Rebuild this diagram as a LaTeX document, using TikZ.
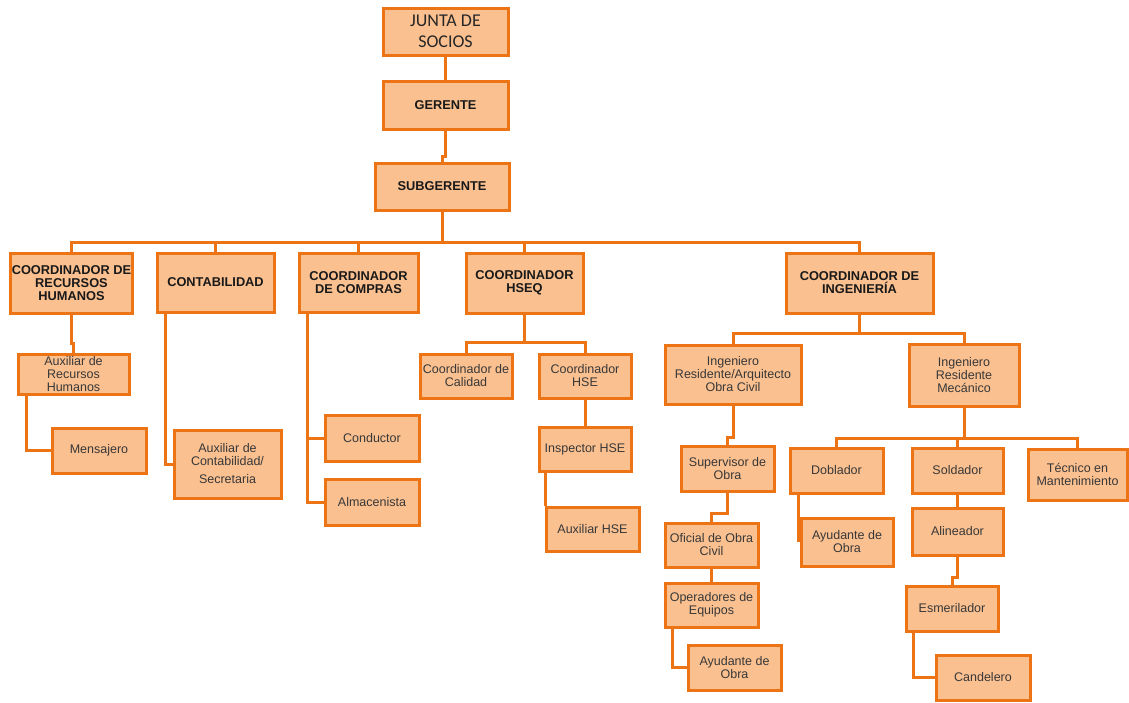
\documentclass[tikz,border=0pt]{standalone}
\usepackage{fontspec}
\setmainfont{Liberation Sans}
\newfontfamily\carlito{Carlito}
\usetikzlibrary{backgrounds}
\definecolor{boxfill}{HTML}{FAC090}
\definecolor{boxline}{HTML}{EC7414}
\definecolor{txt}{HTML}{383838}
\tikzset{
 orgbox/.style={draw=boxline, fill=boxfill, line width=3pt, inner sep=1pt, align=center, text=txt, font=\fontsize{12.5}{13}\selectfont},
 boldbox/.style={orgbox, font=\fontsize{12.8}{13}\selectfont\bfseries, text=black!90},
 topbox/.style={orgbox, font=\carlito\fontsize{18}{21}\selectfont, text=black!85},
 link/.style={draw=boxline, line width=3pt},
}
\newcommand\bx[7][orgbox]{\node[#1, minimum width={(#5)-(#3)}, minimum height={(#6)-(#4)}] (#2) at ({((#3)+(#5))/2},{((#4)+(#6))/2}) {#7};}
\begin{document}
\begin{tikzpicture}[x=1pt,y=-1pt]
\useasboundingbox (0,0) rectangle (1129,702);
% top
\bx[topbox]{junta}{383}{8}{508}{55}{JUNTA DE\\SOCIOS}
\bx[boldbox]{gerente}{383}{81}{508}{129}{GERENTE}
\bx[boldbox]{sub}{375}{163}{509}{210}{SUBGERENTE}
% level 1
\bx[boldbox]{rrhh}{11}{253}{132}{313}{COORDINADOR DE\\RECURSOS\\HUMANOS}
\bx[boldbox]{contab}{157}{253}{274}{312}{CONTABILIDAD}
\bx[boldbox]{compras}{299}{253}{418}{312}{COORDINADOR\\DE COMPRAS}
\bx[boldbox]{hseq}{466}{253}{583}{313}{COORDINADOR\\HSEQ}
\bx[boldbox]{inge}{786}{253}{933}{313}{COORDINADOR DE\\INGENIERÍA}
% rrhh branch
\bx{auxrrhh}{18}{354}{129}{394}{Auxiliar de\\Recursos\\Humanos}
\bx{mensajero}{52}{428}{146}{473}{Mensajero}
% contab branch
\bx{auxcont}{174}{430}{281}{498}{Auxiliar de\\Contabilidad/\\[5pt]Secretaria}
% compras branch
\bx{conductor}{325}{415}{419}{461}{Conductor}
\bx{almac}{325}{479}{419}{525}{Almacenista}
% hseq branch
\bx{calidad}{420}{354}{512}{398}{Coordinador de\\Calidad}
\bx{hse}{539}{354}{631}{398}{Coordinador\\HSE}
\bx{inspector}{539}{427}{631}{471}{Inspector HSE}
\bx{auxhse}{546}{507}{639}{551}{Auxiliar HSE}
% ingenieria civil
\bx{ingcivil}{665}{345}{801}{404}{Ingeniero\\Residente/Arquitecto\\Obra Civil}
\bx{supervisor}{681}{446}{774}{491}{Supervisor de\\Obra}
\bx{oficial}{665}{523}{758}{567}{Oficial de Obra\\Civil}
\bx{operadores}{665}{583}{758}{627}{Operadores de\\Equipos}
\bx{ayudante}{688}{645}{781}{690}{Ayudante de\\Obra}
% ingenieria mecanica
\bx{ingmec}{909}{344}{1019}{406}{Ingeniero\\Residente\\Mecánico}
\bx{doblador}{790}{448}{883}{493}{Doblador}
\bx{soldador}{912}{448}{1003}{493}{Soldador}
\bx{tecnico}{1028}{449}{1127}{500}{Técnico en\\Mantenimiento}
\bx{ayudtwo}{801}{518}{893}{566}{Ayudante de\\Obra}
\bx{alineador}{912}{508}{1003}{555}{Alineador}
\bx{esmer}{906}{586}{998}{631}{Esmerilador}
\bx{candelero}{936}{655}{1030}{700}{Candelero}
\begin{scope}[on background layer]
\draw[link] (junta.south) -- (gerente.north);
\draw[link] (gerente.south) -- ++(0,26) -| (sub.north);
\coordinate (bus) at (442,242);
\draw[link] (sub.south) -- (sub.south |- bus);
\draw[link] (rrhh.north) |- (bus);
\draw[link] (inge.north) |- (bus);
\draw[link] (contab.north) -- (contab.north |- bus);
\draw[link] (compras.north) -- (compras.north |- bus);
\draw[link] (hseq.north) -- (hseq.north |- bus);
% rrhh
\draw[link] (rrhh.south) -- ++(0,29) -| (auxrrhh.north);
\draw[link] ([xshift=10pt]auxrrhh.south west) |- (mensajero.west);
% contab
\draw[link] ([xshift=10pt]contab.south west) |- (auxcont.west);
% compras
\draw[link] ([xshift=10pt]compras.south west) |- (conductor.west);
\draw[link] ([xshift=10pt]compras.south west) |- (almac.west);
% hseq
\coordinate (hb) at (524.5,342);
\draw[link] (hseq.south) -- (hseq.south |- hb);
\draw[link] (calidad.north) |- (hb);
\draw[link] (hse.north) |- (hb);
\draw[link] (hse.south) -- (inspector.north);
\draw[link] ([xshift=8pt]inspector.south west) -- ([xshift=8pt]inspector.south west |- auxhse.north);
% ingenieria
\coordinate (ib) at (859.5,333);
\draw[link] (inge.south) -- (inge.south |- ib);
\draw[link] (ingcivil.north) |- (ib);
\draw[link] (ingmec.north) |- (ib);
\draw[link] (ingcivil.south) -- ++(0,32) -| (supervisor.north);
\draw[link] (supervisor.south) -- ++(0,21) -| (oficial.north);
\draw[link] (oficial.south) -- (operadores.north);
\draw[link] ([xshift=9pt]operadores.south west) |- (ayudante.west);
\coordinate (mb) at (964,438);
\draw[link] (ingmec.south) -- (ingmec.south |- mb);
\draw[link] (doblador.north) |- (mb);
\draw[link] (tecnico.north) |- (mb);
\draw[link] (soldador.north) -- (soldador.north |- mb);
\draw[link] ([xshift=10pt]doblador.south west) -- ([xshift=10pt]doblador.south west |- ayudtwo.west);
\draw[link] (soldador.south) -- (alineador.north);
\draw[link] (alineador.south) -- ++(0,21) -| (esmer.north);
\draw[link] ([xshift=9pt]esmer.south west) |- (candelero.west);
\end{scope}
\end{tikzpicture}
\end{document}
